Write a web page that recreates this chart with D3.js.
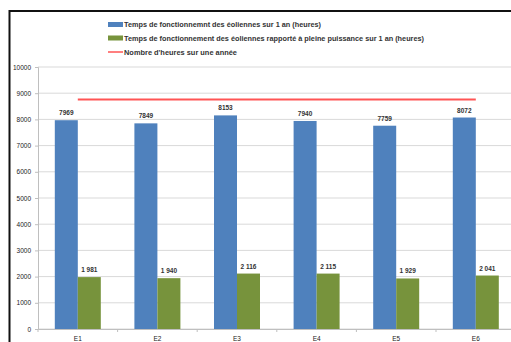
<!DOCTYPE html>
<html>
<head>
<meta charset="utf-8">
<script src="https://cdn.jsdelivr.net/npm/d3@7"></script>
<style>
  html, body { margin: 0; padding: 0; background: #fff; }
  svg { display: block; font-family: "Liberation Sans", Arial, sans-serif; }
</style>
</head>
<body>
<svg id="chart" width="511" height="342"></svg>
<script>
// Éoliennes E1–E6 : heures de fonctionnement sur un an
const categories = ["E1", "E2", "E3", "E4", "E5", "E6"];
const heuresFonctionnement = [7969, 7849, 8153, 7940, 7759, 8072];
const heuresPleinePuissance = [1981, 1940, 2116, 2115, 1929, 2041];
const heuresAnnee = [8760, 8760, 8760, 8760, 8760, 8760];
const yTicks = [0, 1000, 2000, 3000, 4000, 5000, 6000, 7000, 8000, 9000, 10000];
const legendLabels = [
  "Temps de fonctionnemnt des éoliennes sur 1 an (heures)",
  "Temps de fonctionnement des éoliennes rapporté à pleine puissance sur 1 an (heures)",
  "Nombre d'heures sur une année"
];

const colors = { blue: "#4F81BD", green: "#77933C", red: "#FF5454" };

const svg = d3.select("#chart");
svg.append("rect").attr("width", 511).attr("height", 342).attr("fill", "#fff");

// Cadre du graphique
svg.append("rect")
  .attr("x", 9.5).attr("y", 11)
  .attr("width", 540).attr("height", 360)
  .attr("fill", "none").attr("stroke", "#111").attr("stroke-width", 2);

const plot = { left: 38, right: 515.6, top: 67, bottom: 329 };

const x = d3.scaleBand().domain(categories).range([plot.left, plot.right]).padding(0);
const sub = d3.scaleBand().domain(["fonct", "pleine"]).range([0, 46]).padding(0);
const y = d3.scaleLinear().domain([0, 10000]).range([plot.bottom, plot.top]);

// Grille horizontale
svg.append("g")
  .selectAll("line")
  .data(yTicks)
  .join("line")
  .attr("x1", plot.left).attr("x2", plot.right)
  .attr("y1", d => y(d)).attr("y2", d => y(d))
  .attr("stroke", "#d9d9d9").attr("stroke-width", 1);

// Axe Y
const yAxis = svg.append("g")
  .attr("transform", `translate(${plot.left},0)`)
  .call(d3.axisLeft(y).tickValues(yTicks).tickFormat(d3.format("d")).tickSize(3).tickPadding(4));
yAxis.select(".domain").attr("stroke", "#bfbfbf");
yAxis.selectAll(".tick line").attr("stroke", "#bfbfbf");
yAxis.selectAll("text").attr("font-size", 6.5).attr("fill", "#222");

// Axe X
const xAxis = svg.append("g")
  .attr("transform", `translate(0,${plot.bottom})`)
  .call(d3.axisBottom(x).tickSize(0).tickPadding(7));
xAxis.select(".domain").attr("stroke", "#bfbfbf");
xAxis.selectAll("text").attr("font-size", 6.5).attr("fill", "#222");
svg.append("g")
  .selectAll("line")
  .data(categories)
  .join("line")
  .attr("x1", d => x(d)).attr("x2", d => x(d))
  .attr("y1", plot.bottom).attr("y2", plot.bottom + 3)
  .attr("stroke", "#bfbfbf");

// Barres
const groupOffset = (x.bandwidth() - 46) / 2;
const rows = categories.map((c, i) => ({
  cat: c, fonct: heuresFonctionnement[i], pleine: heuresPleinePuissance[i]
}));

const frFormat = d3.formatLocale({ decimal: ",", thousands: " ", grouping: [3], currency: ["", " €"] }).format(",d");

const groups = svg.append("g").selectAll("g")
  .data(rows)
  .join("g")
  .attr("transform", d => `translate(${x(d.cat) + groupOffset},0)`);

groups.append("rect")
  .attr("x", sub("fonct")).attr("width", sub.bandwidth())
  .attr("y", d => y(d.fonct)).attr("height", d => y(0) - y(d.fonct))
  .attr("fill", colors.blue);
groups.append("rect")
  .attr("x", sub("pleine")).attr("width", sub.bandwidth())
  .attr("y", d => y(d.pleine)).attr("height", d => y(0) - y(d.pleine))
  .attr("fill", colors.green);

groups.append("text")
  .attr("x", sub("fonct") + sub.bandwidth() / 2)
  .attr("y", d => y(d.fonct) - 5)
  .attr("text-anchor", "middle")
  .attr("font-size", 6.5).attr("font-weight", "bold").attr("fill", "#333")
  .text(d => d3.format("d")(d.fonct));
groups.append("text")
  .attr("x", sub("pleine") + sub.bandwidth() / 2)
  .attr("y", d => y(d.pleine) - 5)
  .attr("text-anchor", "middle")
  .attr("font-size", 6.5).attr("font-weight", "bold").attr("fill", "#333")
  .text(d => frFormat(d.pleine));

// Ligne : nombre d'heures sur une année
const line = d3.line()
  .x((d, i) => x(categories[i]) + x.bandwidth() / 2)
  .y(d => y(d));
svg.append("path")
  .datum(heuresAnnee)
  .attr("d", line)
  .attr("fill", "none")
  .attr("stroke", colors.red)
  .attr("stroke-width", 2);

// Légende
const legend = svg.append("g").attr("transform", "translate(108,0)");
const legendY = [24.5, 38, 52];
const legendWidths = [197, 300, 113];
const legendItems = [
  { label: legendLabels[0], color: colors.blue, type: "rect" },
  { label: legendLabels[1], color: colors.green, type: "rect" },
  { label: legendLabels[2], color: colors.red, type: "line" }
];
legendItems.forEach((it, i) => {
  const g = legend.append("g").attr("transform", `translate(0,${legendY[i]})`);
  if (it.type === "rect") {
    g.append("rect").attr("x", 0).attr("y", -2.5).attr("width", 15).attr("height", 5).attr("fill", it.color);
  } else {
    g.append("line").attr("x1", 0).attr("x2", 15).attr("y1", 0).attr("y2", 0)
      .attr("stroke", it.color).attr("stroke-width", 1.5);
  }
  g.append("text")
    .attr("x", 16).attr("y", 2.6)
    .attr("font-size", 7.6).attr("font-weight", "bold").attr("fill", "#333")
    .attr("textLength", legendWidths[i]).attr("lengthAdjust", "spacingAndGlyphs")
    .text(it.label);
});
</script>
</body>
</html>
